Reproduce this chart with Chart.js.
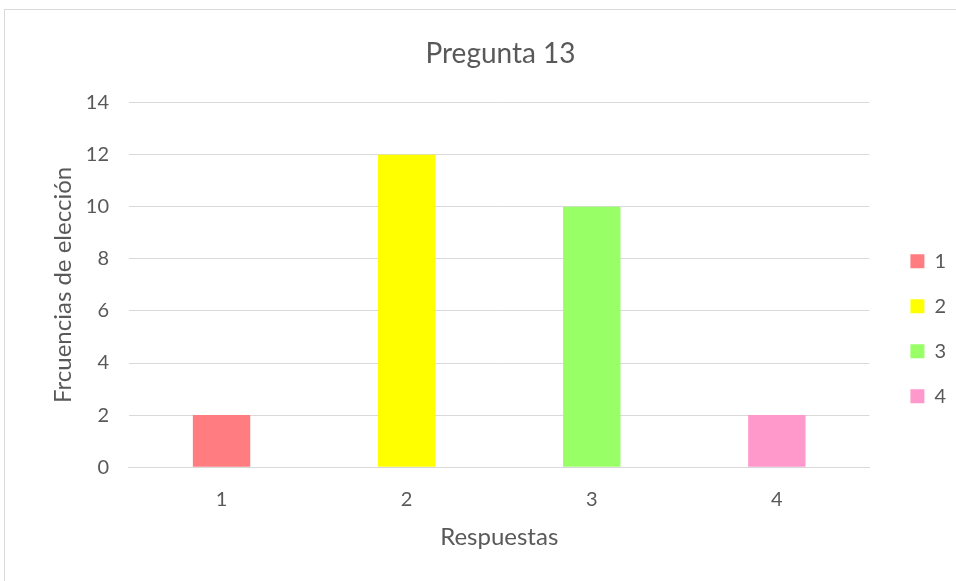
<!DOCTYPE html>
<html>
<head>
<meta charset="utf-8">
<script src="https://cdn.jsdelivr.net/npm/chart.js@4"></script>
<style>
  body { margin: 0; background: #fff; }
  #box {
    position: absolute; left: 4px; top: 9px;
    width: 970px; height: 590px;
    border: 1px solid #d9d9d9; box-sizing: border-box;
  }
  #wrap { position: absolute; left: 0; top: 0; width: 953px; height: 570px; }
</style>
</head>
<body>
<div id="box"><div id="wrap"><canvas id="myChart"></canvas></div></div>
<script>
var categorie = ["1", "2", "3", "4"];
var frecuencias = [2, 12, 10, 2];
var colori = ["#ff7c80", "#ffff00", "#99ff66", "#ff99cc"];

function init() {
  getChart();
}

function getLegendLabels(chart) {
  var labels = [];
  for (var i = 0; i < categorie.length; i++) {
    labels.push({
      text: categorie[i],
      fillStyle: colori[i],
      strokeStyle: colori[i],
      lineWidth: 0,
      fontColor: "#595959",
      index: i
    });
  }
  return labels;
}

function getChart() {
  var ctx = document.getElementById('myChart').getContext('2d');
  Chart.defaults.font.family = "Lato, 'Open Sans', sans-serif";
  Chart.defaults.color = "#595959";
  var chart = new Chart(ctx, {
    type: 'bar',
    data: {
      labels: categorie,
      datasets: [{
        label: 'Pregunta 13',
        backgroundColor: colori,
        data: frecuencias,
        barPercentage: 0.31,
        categoryPercentage: 1
      }]
    },
    options: {
      responsive: true,
      maintainAspectRatio: false,
      animation: false,
      layout: { padding: { left: 40, right: 2, top: 27, bottom: 24 } },
      plugins: {
        title: {
          display: true,
          text: 'Pregunta 13',
          color: "#595959",
          font: { size: 28, weight: 'normal' },
          padding: { top: 0, bottom: 32 }
        },
        legend: {
          position: 'right',
          title: { display: true, text: ' ', padding: { top: 50, bottom: 0 } },
          labels: {
            generateLabels: getLegendLabels,
            boxWidth: 14,
            boxHeight: 14,
            padding: 25,
            font: { size: 20 }
          }
        },
        tooltip: { enabled: false }
      },
      scales: {
        x: {
          grid: { display: false },
          border: { color: "#d9d9d9" },
          ticks: { font: { size: 20 }, padding: 12 },
          title: { display: true, text: 'Respuestas', font: { size: 24 }, padding: { top: 0 } }
        },
        y: {
          min: 0,
          max: 14,
          ticks: { stepSize: 2, font: { size: 20 }, padding: 20 },
          grid: { color: "#d9d9d9", drawTicks: false },
          border: { display: false },
          title: { display: true, text: 'Frcuencias de elección', font: { size: 24 }, padding: { bottom: 4 } },
          afterFit: function (scale) { scale.width -= 16; }
        },
        spazio: {
          position: 'right',
          grid: { display: false },
          border: { display: false },
          ticks: { display: false },
          afterFit: function (scale) { scale.width = 16; }
        }
      }
    }
  });
}

init();
</script>
</body>
</html>
